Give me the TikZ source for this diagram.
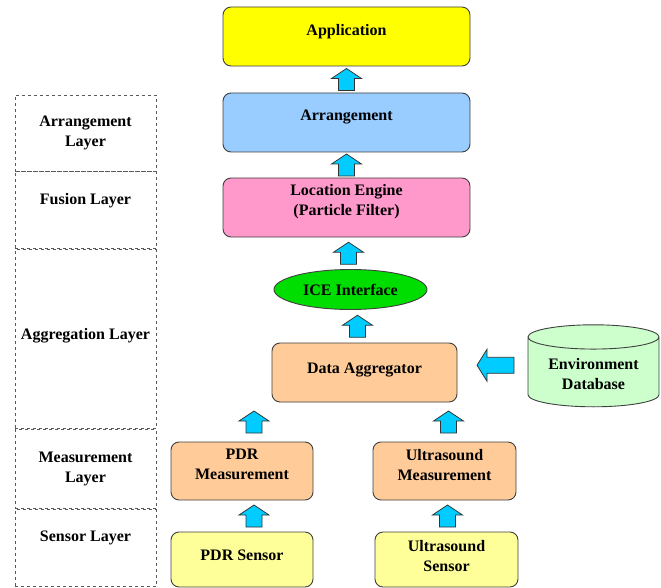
\documentclass[tikz,border=0pt]{standalone}
\usepackage{fontspec}
\setmainfont{Liberation Serif}
\usepackage{tikz}
\usetikzlibrary{shapes.geometric, calc, positioning}

\definecolor{appyellow}{HTML}{FFFF00}
\definecolor{arrblue}{HTML}{99CCFF}
\definecolor{locpink}{HTML}{FF99CC}
\definecolor{icegreen}{HTML}{00DD00}
\definecolor{aggpeach}{HTML}{FFCC99}
\definecolor{sensyellow}{HTML}{FFFF99}
\definecolor{dbgreen}{HTML}{CCFFCC}
\definecolor{arrcyan}{HTML}{00CCFF}

\begin{document}
\begin{tikzpicture}[
            x=1pt, y=-1pt,
            every node/.style={font=\fontsize{16}{20}\selectfont\bfseries, align=center}, % bold serif labels
            box/.style={draw=black!75, line width=0.9pt, rounded corners=8pt, minimum width=247pt, minimum height=59pt},
            smallbox/.style={box, minimum width=142pt, minimum height=58pt},
            layerbox/.style={draw=black!65, dashed, line width=0.9pt, minimum width=141pt, inner sep=0pt},
            lift/.style={text depth=#1}, % pushes the text a bit above the middle
            pics/blockarr/.style 2 args={code={ % thick arrow pointing up
                \filldraw[fill=arrcyan, draw=black!80, line width=0.8pt]
                    (-8pt,-#1) -- (8pt,-#1) -- (8pt,#1-10pt) -- (#2,#1-10pt)
                    -- (0pt,#1) -- (-#2,#1-10pt) -- (-8pt,#1-10pt) -- cycle;}}
            ]
        \useasboundingbox (0,0) rectangle (661,588);

                % Layer column on the left
                \node[layerbox, minimum height=76pt] (laArr) at (85.5,133) {Arrangement\\Layer};
                \node[layerbox, minimum height=77pt, below=0pt of laArr, lift=22pt] (laFus) {Fusion Layer};
                \node[layerbox, minimum height=179pt, below=0pt of laFus, lift=10pt] (laAgg) {Aggregation Layer};
                \node[layerbox, minimum height=79pt, below=0pt of laAgg] (laMea) {Measurement\\Layer};
                \node[layerbox, minimum height=77pt, below=0pt of laMea, lift=24pt] (laSen) {Sensor Layer};

                % Processing chain
                \node[box, fill=appyellow, lift=14pt] (app) at (346.5,36.5) {Application};
                \node[box, fill=arrblue, lift=14pt] (arrg) at (346.5,122.5) {Arrangement};
                \node[box, fill=locpink, lift=16pt] (loc) at (346.5,207.5) {Location Engine\\(Particle Filter)};
                \node[ellipse, draw=black!75, line width=0.9pt, fill=icegreen, minimum width=153pt, minimum height=40pt] (ice) at (350.5,289.5) {ICE Interface};
                \node[box, fill=aggpeach, minimum width=185pt, lift=8pt] (agg) at (364.5,372.5) {Data Aggregator};
                \node[cylinder, shape border rotate=90, aspect=0.25, draw=black!75, line width=0.9pt, fill=dbgreen, minimum width=131pt, minimum height=82pt] (db) at (593.5,374) {Environment\\Database};
                \node[smallbox, fill=aggpeach, lift=13pt] (pdrm) at (242,471) {PDR\\Measurement};
                \node[smallbox, fill=aggpeach, minimum width=143pt, lift=13pt] (usm) at (444.5,471) {Ultrasound\\Measurement};
                \node[smallbox, fill=sensyellow, minimum height=55pt, lift=8pt] (pdrs) at (242,559.5) {PDR Sensor};
                \node[smallbox, fill=sensyellow, minimum width=143pt, minimum height=55pt, lift=8pt] (uss) at (446.5,559.5) {Ultrasound\\Sensor};

                % Block arrows
                \pic at ($(app.south)!0.5!(arrg.north)$) {blockarr={11pt}{15pt}};
                \pic at ($(arrg.south)!0.5!(loc.north)$) {blockarr={11pt}{15pt}};
                \pic at ($(loc.south)!0.5!(ice.north)$) {blockarr={11pt}{15pt}};
                \pic at ($(ice.south)!0.5!(agg.north)$) {blockarr={11pt}{15pt}};
                \pic at ($(pdrm.north)!0.5!(pdrm.north|-agg.south)+(12,0)$) {blockarr={11pt}{15pt}};
                \pic at ($(usm.north)!0.5!(usm.north|-agg.south)+(4,0)$) {blockarr={11pt}{15pt}};
                \pic at ($(pdrs.north)!0.5!(pdrm.south)+(12,0)$) {blockarr={11pt}{15pt}};
                \pic at ($(uss.north)!0.5!(usm.south)+(2,0)$) {blockarr={11pt}{15pt}};
                \pic[rotate=90] at ($(agg.east)!0.5!(db.west)+(3,-8)$) {blockarr={18.5pt}{16pt}};

            \end{tikzpicture}
\end{document}
